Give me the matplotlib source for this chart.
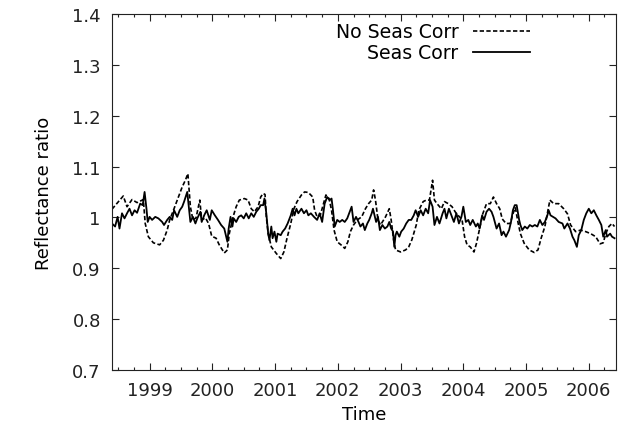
import numpy as np
import matplotlib
matplotlib.use("Agg")
import matplotlib.pyplot as plt
from matplotlib.ticker import MultipleLocator

# decimal year / ratio for "No Seas Corr" (dashed)
t_noseas = [1998.40, 1998.58, 1998.64, 1998.72, 1998.80, 1998.90, 1998.93, 1998.98,
            1999.06, 1999.16, 1999.22, 1999.28, 1999.32, 1999.38, 1999.46, 1999.52,
            1999.57, 1999.61, 1999.65, 1999.69, 1999.74, 1999.80, 1999.83, 1999.89,
            1999.94, 1999.99, 2000.06, 2000.11, 2000.19, 2000.24, 2000.27, 2000.33,
            2000.38, 2000.43, 2000.51, 2000.57, 2000.62, 2000.67, 2000.73, 2000.77,
            2000.81, 2000.84, 2000.86, 2000.89, 2000.94, 2001.02, 2001.09, 2001.14,
            2001.19, 2001.25, 2001.30, 2001.35, 2001.42, 2001.47, 2001.53, 2001.60,
            2001.63, 2001.67, 2001.72, 2001.78, 2001.81, 2001.86, 2001.90, 2001.94,
            2001.99, 2002.07, 2002.11, 2002.16, 2002.20, 2002.25, 2002.31, 2002.38,
            2002.44, 2002.49, 2002.54, 2002.57, 2002.60, 2002.64, 2002.68, 2002.76,
            2002.82, 2002.85, 2002.89, 2002.92, 2003.00, 2003.08, 2003.13, 2003.18,
            2003.25, 2003.29, 2003.36, 2003.41, 2003.46, 2003.51, 2003.54, 2003.58,
            2003.65, 2003.70, 2003.76, 2003.82, 2003.89, 2003.94, 2003.98, 2004.02,
            2004.06, 2004.11, 2004.17, 2004.21, 2004.26, 2004.31, 2004.37, 2004.43,
            2004.48, 2004.53, 2004.58, 2004.62, 2004.68, 2004.75, 2004.79, 2004.83,
            2004.87, 2004.91, 2004.97, 2005.05, 2005.13, 2005.19, 2005.24, 2005.30,
            2005.34, 2005.38, 2005.44, 2005.52, 2005.60, 2005.66, 2005.71, 2005.79,
            2005.87, 2005.95, 2006.03, 2006.11, 2006.18, 2006.23, 2006.27, 2006.32,
            2006.37, 2006.41]
r_noseas = [1.016, 1.042, 1.021, 1.035, 1.029, 1.035, 0.988, 0.962,
            0.950, 0.946, 0.955, 0.975, 0.995, 1.014, 1.040, 1.060,
            1.073, 1.086, 1.021, 0.995, 0.999, 1.034, 0.995, 0.999,
            0.988, 0.963, 0.959, 0.946, 0.930, 0.936, 0.968, 1.001,
            1.021, 1.034, 1.037, 1.034, 1.017, 1.011, 1.021, 1.040,
            1.047, 1.045, 1.001, 0.968, 0.942, 0.929, 0.919, 0.932,
            0.959, 0.988, 1.017, 1.031, 1.044, 1.050, 1.049, 1.040,
            1.014, 1.001, 1.004, 1.031, 1.044, 1.037, 1.014, 0.975,
            0.952, 0.944, 0.939, 0.952, 0.972, 0.985, 0.995, 1.001,
            1.017, 1.027, 1.034, 1.054, 1.034, 0.995, 0.985, 1.001,
            1.017, 0.995, 0.955, 0.936, 0.932, 0.936, 0.942, 0.956,
            0.985, 1.014, 1.031, 1.034, 1.034, 1.073, 1.034, 1.027,
            1.017, 1.031, 1.027, 1.021, 1.007, 1.001, 0.995, 0.962,
            0.946, 0.942, 0.932, 0.949, 0.978, 1.007, 1.027, 1.027,
            1.040, 1.027, 1.017, 0.997, 0.988, 0.988, 1.007, 1.019,
            0.991, 0.968, 0.949, 0.936, 0.931, 0.936, 0.959, 0.982,
            1.008, 1.034, 1.027, 1.027, 1.017, 1.007, 0.985, 0.972,
            0.975, 0.972, 0.968, 0.962, 0.948, 0.950, 0.968, 0.982,
            0.988, 0.982]

# decimal year / ratio for "Seas Corr" (solid)
t_seas = [1998.40, 1998.45, 1998.49, 1998.52, 1998.56, 1998.60, 1998.64, 1998.68,
          1998.72, 1998.76, 1998.80, 1998.85, 1998.89, 1998.92, 1998.95, 1998.97,
          1999.00, 1999.04, 1999.09, 1999.14, 1999.20, 1999.23, 1999.28, 1999.32,
          1999.36, 1999.39, 1999.44, 1999.48, 1999.52, 1999.55, 1999.60, 1999.62,
          1999.65, 1999.69, 1999.73, 1999.76, 1999.81, 1999.83, 1999.87, 1999.91,
          1999.96, 1999.99, 2000.04, 2000.09, 2000.14, 2000.19, 2000.24, 2000.26,
          2000.29, 2000.32, 2000.34, 2000.38, 2000.42, 2000.46, 2000.50, 2000.54,
          2000.58, 2000.62, 2000.66, 2000.70, 2000.74, 2000.77, 2000.81, 2000.83,
          2000.86, 2000.89, 2000.91, 2000.94, 2000.96, 2000.99, 2001.02, 2001.04,
          2001.09, 2001.12, 2001.16, 2001.20, 2001.25, 2001.28, 2001.31, 2001.34,
          2001.37, 2001.42, 2001.46, 2001.50, 2001.53, 2001.57, 2001.62, 2001.67,
          2001.71, 2001.75, 2001.79, 2001.83, 2001.87, 2001.90, 2001.92, 2001.95,
          2001.99, 2002.03, 2002.07, 2002.11, 2002.15, 2002.18, 2002.22, 2002.25,
          2002.29, 2002.33, 2002.36, 2002.40, 2002.43, 2002.47, 2002.50, 2002.54,
          2002.56, 2002.59, 2002.61, 2002.64, 2002.67, 2002.71, 2002.75, 2002.79,
          2002.82, 2002.85, 2002.88, 2002.90, 2002.92, 2002.94, 2002.98, 2003.01,
          2003.05, 2003.09, 2003.13, 2003.17, 2003.21, 2003.24, 2003.28, 2003.32,
          2003.36, 2003.40, 2003.44, 2003.47, 2003.51, 2003.54, 2003.58, 2003.62,
          2003.67, 2003.70, 2003.73, 2003.77, 2003.81, 2003.85, 2003.89, 2003.93,
          2003.97, 2004.00, 2004.04, 2004.08, 2004.11, 2004.15, 2004.20, 2004.23,
          2004.26, 2004.30, 2004.33, 2004.37, 2004.41, 2004.45, 2004.48, 2004.53,
          2004.57, 2004.61, 2004.64, 2004.68, 2004.73, 2004.76, 2004.79, 2004.82,
          2004.85, 2004.89, 2004.91, 2004.94, 2004.98, 2005.02, 2005.06, 2005.10,
          2005.14, 2005.18, 2005.22, 2005.26, 2005.30, 2005.34, 2005.36, 2005.39,
          2005.43, 2005.47, 2005.52, 2005.58, 2005.61, 2005.66, 2005.70, 2005.74,
          2005.77, 2005.81, 2005.84, 2005.88, 2005.92, 2005.96, 2006.00, 2006.04,
          2006.08, 2006.12, 2006.16, 2006.20, 2006.23, 2006.27, 2006.29, 2006.34,
          2006.37, 2006.41]
r_seas = [0.988, 0.982, 1.001, 0.978, 1.008, 0.998, 1.008, 1.017,
          1.004, 1.014, 1.009, 1.027, 1.024, 1.050, 1.017, 0.991,
          1.001, 0.995, 1.001, 0.998, 0.991, 0.985, 0.995, 1.001,
          0.995, 1.014, 1.001, 1.014, 1.021, 1.031, 1.050, 1.027,
          0.991, 1.001, 0.988, 0.998, 1.011, 0.991, 1.004, 1.014,
          0.995, 1.014, 1.004, 0.995, 0.985, 0.978, 0.952, 0.978,
          1.001, 0.982, 0.998, 0.991, 1.001, 1.004, 0.998, 1.008,
          0.998, 1.008, 1.001, 1.011, 1.017, 1.024, 1.024, 1.037,
          1.008, 0.968, 0.955, 0.982, 0.959, 0.972, 0.952, 0.968,
          0.965, 0.972, 0.978, 0.988, 1.004, 1.017, 1.004, 1.017,
          1.008, 1.017, 1.008, 1.014, 1.004, 1.008, 1.001, 0.995,
          1.008, 0.991, 1.027, 1.040, 1.034, 1.037, 1.017, 0.982,
          0.995, 0.991, 0.995, 0.991, 0.998, 1.008, 1.021, 0.991,
          1.001, 0.991, 0.982, 0.988, 0.975, 0.988, 0.995, 1.008,
          1.017, 1.001, 0.991, 1.001, 0.975, 0.985, 0.978, 0.982,
          0.991, 0.978, 0.972, 0.942, 0.965, 0.972, 0.962, 0.972,
          0.978, 0.988, 0.995, 0.995, 1.004, 1.014, 1.001, 1.014,
          1.004, 1.017, 1.008, 1.034, 1.021, 0.985, 1.001, 0.988,
          1.008, 1.017, 0.998, 1.017, 1.004, 0.991, 1.008, 0.988,
          1.001, 1.021, 0.991, 0.995, 0.985, 0.995, 0.982, 0.988,
          0.978, 1.004, 0.995, 1.011, 1.017, 1.011, 1.001, 0.978,
          0.988, 0.965, 0.972, 0.962, 0.975, 0.991, 1.014, 1.024,
          1.024, 0.995, 0.985, 0.975, 0.982, 0.978, 0.985, 0.982,
          0.985, 0.982, 0.995, 0.985, 0.991, 1.004, 1.014, 1.004,
          1.001, 0.998, 0.991, 0.988, 0.978, 0.988, 0.978, 0.962,
          0.955, 0.942, 0.965, 0.975, 0.995, 1.008, 1.017, 1.008,
          1.014, 1.004, 0.995, 0.985, 0.962, 0.975, 0.962, 0.968,
          0.962, 0.959]

year_ticks = list(range(1999, 2007))
ratio_ticks = [0.7, 0.8, 0.9, 1.0, 1.1, 1.2, 1.3, 1.4]
ratio_labels = ["0.7", "0.8", "0.9", "1", "1.1", "1.2", "1.3", "1.4"]

plt.rcParams.update({
    "font.family": "DejaVu Sans",
    "font.size": 13,
})

fig = plt.figure(figsize=(6.22, 4.39), dpi=100)
ax = fig.add_axes([0.180, 0.155, 0.810, 0.811])

ax.plot(t_noseas, r_noseas, color="black", lw=1.2, linestyle=(0, (2.6, 1.4)), label="No Seas Corr")
ax.plot(t_seas, r_seas, color="black", lw=1.3, linestyle="-", label="Seas Corr")

ax.set_xlim(1998.40, 2006.43)
ax.set_ylim(0.7, 1.4)
ax.set_xticks(year_ticks)
ax.set_xticklabels([str(y) for y in year_ticks])
ax.xaxis.set_minor_locator(MultipleLocator(0.25))
ax.set_yticks(ratio_ticks)
ax.set_yticklabels(ratio_labels)
ax.tick_params(which="both", direction="in", top=True, right=True, width=0.8, colors="#222222")
ax.tick_params(which="major", length=5)
ax.tick_params(which="minor", length=2.5)
ax.tick_params(axis="x", pad=8)
ax.tick_params(axis="y", pad=8)
for s in ax.spines.values():
    s.set_linewidth(0.8)
    s.set_color("#222222")

ax.set_xlabel("Time", labelpad=4)
ax.set_ylabel("Reflectance ratio", labelpad=14)

ax.legend(loc="upper right", bbox_to_anchor=(0.83, 0.977), frameon=False,
          markerfirst=False, handlelength=3.0, borderpad=0, borderaxespad=0,
          labelspacing=0.12, handletextpad=0.8, fontsize=13.6)

fig.savefig("out.png", dpi=100)
